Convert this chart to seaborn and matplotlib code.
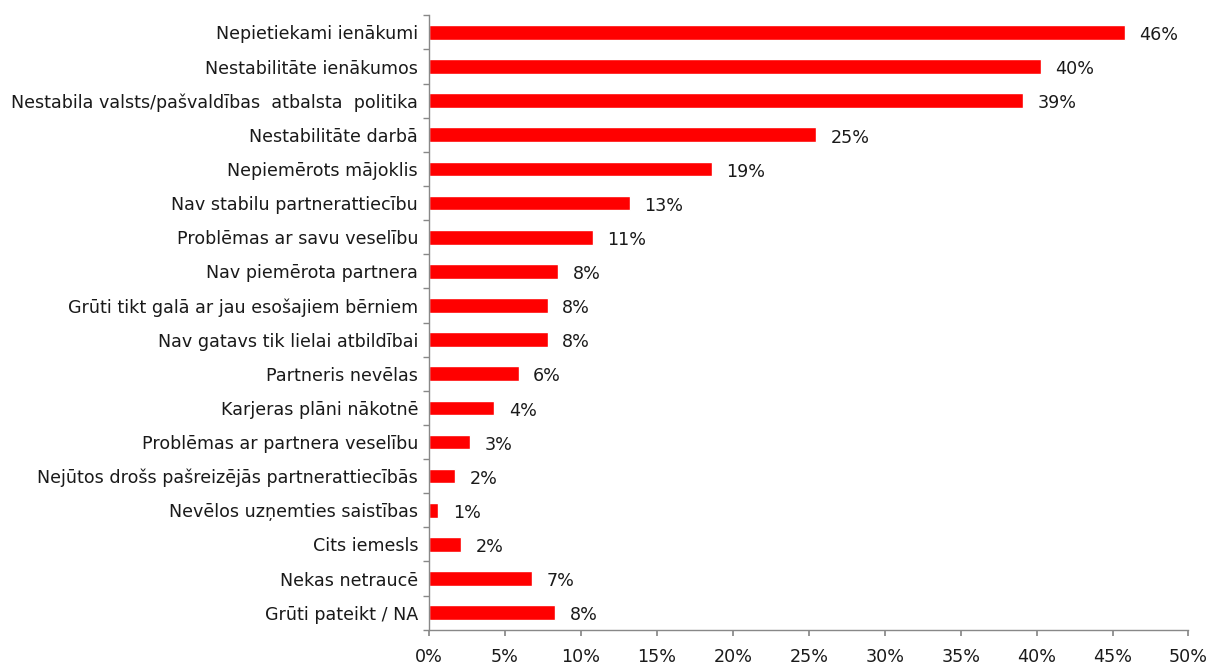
import matplotlib
matplotlib.use("Agg")
import matplotlib.pyplot as plt
import seaborn as sns
import numpy as np
import pandas as pd

categories = [
    "Nepietiekami ienākumi",
    "Nestabilitāte ienākumos",
    "Nestabila valsts/pašvaldības  atbalsta  politika",
    "Nestabilitāte darbā",
    "Nepiemērots mājoklis",
    "Nav stabilu partnerattiecību",
    "Problēmas ar savu veselību",
    "Nav piemērota partnera",
    "Grūti tikt galā ar jau esošajiem bērniem",
    "Nav gatavs tik lielai atbildībai",
    "Partneris nevēlas",
    "Karjeras plāni nākotnē",
    "Problēmas ar partnera veselību",
    "Nejūtos drošs pašreizējās partnerattiecībās",
    "Nevēlos uzņemties saistības",
    "Cits iemesls",
    "Nekas netraucē",
    "Grūti pateikt / NA",
]
values = [45.8, 40.3, 39.1, 25.5, 18.6, 13.2, 10.8, 8.5, 7.8, 7.8,
          5.9, 4.3, 2.7, 1.7, 0.6, 2.1, 6.8, 8.3]
labels = ["46%", "40%", "39%", "25%", "19%", "13%", "11%", "8%", "8%", "8%",
          "6%", "4%", "3%", "2%", "1%", "2%", "7%", "8%"]
xticks = [0, 5, 10, 15, 20, 25, 30, 35, 40, 45, 50]

sns.set_theme(style="white")
plt.rcParams["font.family"] = ["DejaVu Sans"]
fs = 12.6
txt = "#1a1a1a"

df = pd.DataFrame({"cat": categories, "val": values})

fig, ax = plt.subplots(figsize=(12.09, 6.65), dpi=100)
fig.subplots_adjust(left=0.355, right=0.983, top=0.977, bottom=0.053)

sns.barplot(data=df, x="val", y="cat", color="#ff0000", width=0.43,
            saturation=1, ax=ax)

for i, (v, lab) in enumerate(zip(values, labels)):
    ax.text(v + 0.95, i + 0.08, lab, va="center", ha="left", fontsize=fs, color=txt)

ax.set_xlim(0, 50)
ax.set_ylim(len(categories) - 0.5, -0.5)
ax.set_xticks(xticks)
ax.set_xticklabels([f"{t}%" for t in xticks], fontsize=fs, color=txt)
ax.set_yticks(range(len(categories)))
ax.set_yticklabels(categories, fontsize=fs, color=txt)
ax.set_yticks(np.arange(-0.5, len(categories)), minor=True)
ax.tick_params(axis="y", which="major", length=0, pad=8)
ax.tick_params(axis="y", which="minor", length=4, color="#888888", direction="out", left=True)
ax.tick_params(axis="x", length=4, color="#888888", direction="out", bottom=True, pad=9)
ax.set_xlabel("")
ax.set_ylabel("")

for s in ["top", "right"]:
    ax.spines[s].set_visible(False)
for s in ["left", "bottom"]:
    ax.spines[s].set_color("#888888")
    ax.spines[s].set_linewidth(1)

fig.savefig("out.png", dpi=100)
